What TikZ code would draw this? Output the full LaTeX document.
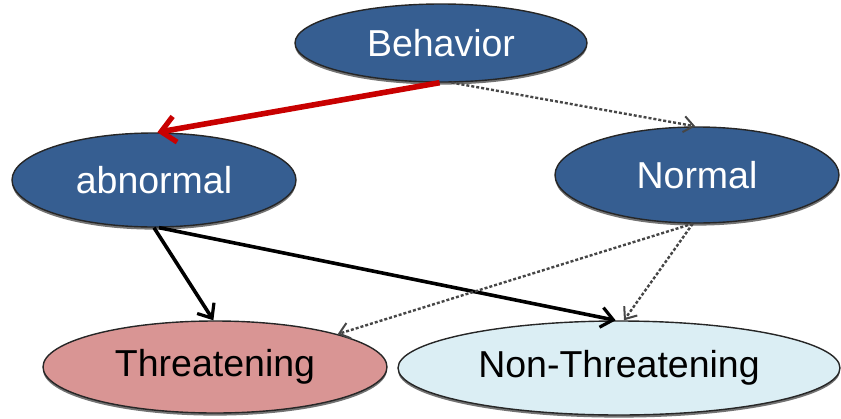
\documentclass[tikz,border=0pt]{standalone}
\usepackage{fontspec}
\setmainfont{Liberation Sans}
\usetikzlibrary{arrows.meta,shapes.geometric,shadows}
\definecolor{nodeblue}{RGB}{54,94,145}
\definecolor{threatfill}{RGB}{217,149,148}
\definecolor{nonthreatfill}{RGB}{219,238,244}
\definecolor{arrred}{RGB}{200,0,0}
\definecolor{dotgray}{RGB}{70,70,70}
\begin{document}
\begin{tikzpicture}[x=0.5pt,y=-0.5pt,
  ell/.style={ellipse, draw=black!85, line width=0.7pt, inner sep=0pt,
    font=\fontsize{18.75}{20}\selectfont,
    drop shadow={shadow xshift=0pt, shadow yshift=-1.3pt, opacity=0.55, fill=black}},
  bluell/.style={ell, fill=nodeblue, text=white},
  redarr/.style={draw=arrred, line width=2.8pt, -{Straight Barb[length=7pt,width=13pt,line width=2.6pt]}},
  blackarr/.style={draw=black, line width=1.8pt, -{Straight Barb[length=6pt,width=10pt,line width=1.6pt]}},
  dotarr/.style={draw=dotgray, line width=1.2pt, dash pattern=on 1.5pt off 1pt, -{Straight Barb[length=5pt,width=8pt,line width=1pt,sep=0pt]}}
]
\useasboundingbox (0,0) rectangle (841,418);
\node[bluell, minimum width=146pt, minimum height=39pt] (beh) at (441,43) {Behavior};
\node[bluell, minimum width=142pt, minimum height=47pt] (abn) at (154,180) {abnormal};
\node[bluell, minimum width=142pt, minimum height=48pt] (nor) at (697,175) {Normal};
\node[ell, fill=threatfill, text=black, minimum width=172pt, minimum height=46pt] (thr) at (215,367) {Threatening};
\node[ell, fill=nonthreatfill, text=black, minimum width=221pt, minimum height=47pt] (non) at (619,368) {Non-Threatening};

\draw[redarr] (beh.268) -- (abn.86);
\draw[dotarr] (beh.-75) -- (nor.92);
\draw[blackarr] (abn.-90) -- (thr.92);
\draw[blackarr] (abn.-84) -- (non.94);
\draw[dotarr] (nor.-95) -- (thr.15);
\draw[dotarr] (nor.-95) -- (non.84);
\end{tikzpicture}
\end{document}
